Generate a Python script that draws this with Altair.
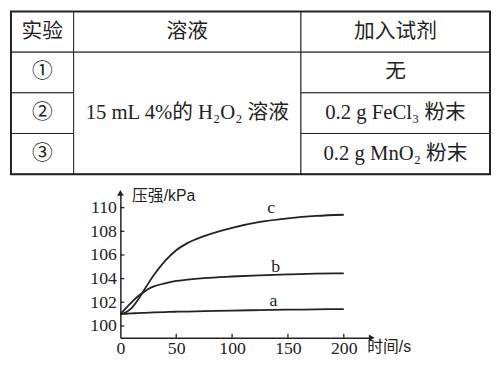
import altair as alt
import pandas as pd

# ---------------- table content ----------------
col_widths = [64, 232, 193]
row_heights = [42, 42, 42, 42]
header = ["实验", "溶液", "加入试剂"]
exp_ids = ["①", "②", "③"]
solution = "15 mL 4%的 H₂O₂ 溶液"
reagents = ["无", "0.2 g FeCl₃ 粉末", "0.2 g MnO₂ 粉末"]

# ---------------- curve data ----------------
time_s = [0, 5, 10, 15, 20, 25, 30, 40, 50, 60, 75, 100, 125, 150, 175, 200]
curve_a = [101.0, 101.03, 101.06, 101.08, 101.1, 101.12, 101.14, 101.17, 101.2,
           101.22, 101.25, 101.3, 101.34, 101.37, 101.4, 101.43]
curve_b = [101.0, 101.5, 102.0, 102.45, 102.8, 103.12, 103.35, 103.6, 103.8,
           103.92, 104.05, 104.18, 104.28, 104.36, 104.42, 104.45]
curve_c = [101.0, 101.15, 101.5, 102.1, 102.85, 103.6, 104.3, 105.5, 106.4,
           107.0, 107.6, 108.3, 108.8, 109.1, 109.3, 109.4]
curve_names = ["a", "b", "c"]
label_t = [137, 139, 135]
label_p = [102.1, 104.95, 110.0]
x_ticks = [0, 50, 100, 150, 200]
y_ticks = [100, 102, 104, 106, 108, 110]
y_title = "压强/kPa"
x_title = "时间/s"

INK = "#222222"
SERIF = "Liberation Serif, DejaVu Serif, Noto Sans CJK SC"
SANS = "Liberation Sans, Noto Sans CJK SC"

# ---------------- table chart ----------------
xe = [0]
for w in col_widths:
    xe.append(xe[-1] + w)
ye = [0]
for h in row_heights:
    ye.append(ye[-1] + h)

cells = []
def add(c0, c1, r0, r1, text):
    cells.append(dict(x0=xe[c0], x1=xe[c1], y0=ye[r0], y1=ye[r1],
                      xc=(xe[c0] + xe[c1]) / 2, yc=(ye[r0] + ye[r1]) / 2, text=text))

for i, h in enumerate(header):
    add(i, i + 1, 0, 1, h)
for i, e in enumerate(exp_ids):
    add(0, 1, i + 1, i + 2, e)
add(1, 2, 1, 4, solution)
for i, r in enumerate(reagents):
    add(2, 3, i + 1, i + 2, r)
cells_df = pd.DataFrame(cells)

xs = alt.Scale(domain=[0, xe[-1]], nice=False, zero=False)
ys = alt.Scale(domain=[0, ye[-1]], nice=False, zero=False, reverse=True)

tbase = alt.Chart(cells_df)
rects = tbase.mark_rect(fill="white", stroke=INK, strokeWidth=1).encode(
    x=alt.X("x0:Q", scale=xs, axis=None), x2="x1:Q",
    y=alt.Y("y0:Q", scale=ys, axis=None), y2="y1:Q")
texts = tbase.mark_text(font=SERIF, fontSize=21, color=INK).encode(
    x=alt.X("xc:Q", scale=xs, axis=None),
    y=alt.Y("yc:Q", scale=ys, axis=None),
    text="text:N")
border_df = pd.DataFrame({"x0": [xe[0]], "x1": [xe[-1]], "y0": [ye[0]], "y1": [ye[-1]]})
border = alt.Chart(border_df).mark_rect(filled=False, stroke=INK, strokeWidth=2).encode(
    x=alt.X("x0:Q", scale=xs, axis=None), x2="x1:Q",
    y=alt.Y("y0:Q", scale=ys, axis=None), y2="y1:Q")
table = alt.layer(rects, texts, border).properties(width=486, height=165)

# ---------------- line chart ----------------
rows = []
for name, vals in zip(curve_names, [curve_a, curve_b, curve_c]):
    for t, p in zip(time_s, vals):
        rows.append(dict(t=t, p=p, curve=name))
df = pd.DataFrame(rows)

XMAX = 225
YMIN, YMAX = 99, 111.25
xsc = alt.Scale(domain=[0, XMAX], nice=False, zero=False)
ysc = alt.Scale(domain=[YMIN, YMAX], nice=False, zero=False)

xaxis = alt.Axis(values=x_ticks, tickCount=len(x_ticks), ticks=False, grid=False, title=None,
                 labelFont="Liberation Serif", labelFontSize=18, labelColor=INK,
                 labelPadding=2, domainColor=INK, domainWidth=1.5, labelFlush=False,
                 labelOverlap=False)
yaxis = alt.Axis(values=y_ticks, tickCount=len(y_ticks), ticks=False, grid=False, title=None,
                 labelFont="Liberation Serif", labelFontSize=18, labelColor=INK,
                 labelPadding=4, domainColor=INK, domainWidth=1.5, labelFlush=False,
                 labelOverlap=False)

def X(field):
    return alt.X(field, scale=xsc, axis=xaxis, title=None)

def Y(field):
    return alt.Y(field, scale=ysc, axis=yaxis, title=None)

lines = alt.Chart(df).mark_line(color=INK, strokeWidth=1.8, interpolate="monotone").encode(
    x=X("t:Q"), y=Y("p:Q"), detail="curve:N")

xt_df = pd.DataFrame({"t": x_ticks[1:]})
xtick_rules = alt.Chart(xt_df).mark_rule(color=INK, strokeWidth=1.3).encode(
    x=X("t:Q"), y=alt.datum(YMIN), y2=alt.datum(YMIN + 0.35))
yt_df = pd.DataFrame({"p": y_ticks})
ytick_rules = alt.Chart(yt_df).mark_rule(color=INK, strokeWidth=1.3).encode(
    y=Y("p:Q"), x=alt.datum(0), x2=alt.datum(3.5))

arrow_up = alt.Chart(pd.DataFrame({"t": [0], "p": [YMAX]})).mark_point(
    shape="triangle-up", filled=True, color=INK, size=45, opacity=1).encode(
    x=X("t:Q"), y=Y("p:Q"))
arrow_right = alt.Chart(pd.DataFrame({"t": [XMAX], "p": [YMIN]})).mark_point(
    shape="triangle-right", filled=True, color=INK, size=45, opacity=1).encode(
    x=X("t:Q"), y=Y("p:Q"))

lab_df = pd.DataFrame({"t": label_t, "p": label_p, "name": curve_names})
labels = alt.Chart(lab_df).mark_text(font="Liberation Serif", fontSize=18, color=INK).encode(
    x=X("t:Q"), y=Y("p:Q"), text="name:N")

ytitle = alt.Chart(pd.DataFrame({"t": [10.5], "p": [110.95], "s": [y_title]})).mark_text(
    font=SANS, fontSize=16, color=INK, align="left", baseline="middle").encode(
    x=X("t:Q"), y=Y("p:Q"), text="s:N")
xtitle = alt.Chart(pd.DataFrame({"t": [221], "p": [98.25], "s": [x_title]})).mark_text(
    font=SANS, fontSize=16, color=INK, align="left", baseline="middle").encode(
    x=X("t:Q"), y=Y("p:Q"), text="s:N")

plot = alt.layer(lines, xtick_rules, ytick_rules, arrow_up, arrow_right,
                 labels, ytitle, xtitle).properties(width=255, height=147)

spacer = alt.Chart(pd.DataFrame({"v": [0]})).mark_point(opacity=0).encode(
    x=alt.value(0), y=alt.value(0)).properties(width=80, height=10)

bottom = alt.hconcat(spacer, plot, spacing=0)

chart = (alt.vconcat(table, bottom, spacing=13)
         .properties(padding=0, background="white")
         .configure_view(strokeWidth=0))

chart.save("out.html", embed_options={"renderer": "svg", "actions": False})
